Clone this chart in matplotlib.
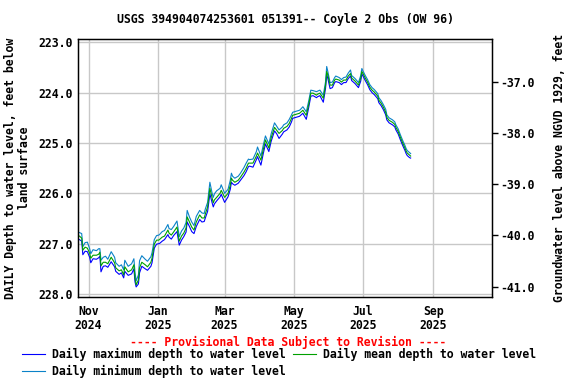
import matplotlib
matplotlib.use("Agg")
import matplotlib.pyplot as plt
import matplotlib.dates as mdates
import numpy as np
import pandas as pd

title = "USGS 394904074253601 051391-- Coyle 2 Obs (OW 96)"
start_date = "2024-10-24"
day_offsets = [0, 2, 3, 5, 7, 9, 10, 12, 15, 17, 18, 19, 21, 23, 25, 28, 31, 32, 35, 37,
               39, 40, 43, 46, 48, 49, 50, 52, 53, 55, 58, 60, 63, 64, 66, 68, 70, 71, 73, 75,
               78, 79, 81, 83, 86, 88, 90, 92, 94, 95, 97, 99, 101, 103, 106, 108, 110, 111, 113, 115,
               117, 118, 119, 121, 124, 125, 128, 131, 133, 134, 135, 137, 140, 142, 145, 147, 149, 150, 153, 156,
               157, 160, 162, 164, 167, 169, 172, 174, 176, 179, 180, 183, 185, 187, 188, 191, 194, 195, 197, 200,
               202, 204, 206, 209, 210, 212, 215, 217, 218, 219, 221, 223, 225, 226, 229, 231, 233, 235, 237, 239,
               240, 243, 246, 248, 249, 250, 252, 254, 256, 258, 260, 263, 264, 266, 268, 270, 271, 273, 276, 278,
               279, 281, 283, 285, 287, 288, 289, 291, 292]

mean_depth = [226.85, 226.89, 227.13, 227.07, 227.09, 227.19, 227.29, 227.23, 227.23, 227.21,
              227.17, 227.44, 227.37, 227.37, 227.40, 227.27, 227.38, 227.48, 227.54, 227.52,
              227.62, 227.46, 227.56, 227.52, 227.42, 227.68, 227.82, 227.72, 227.48, 227.37,
              227.42, 227.46, 227.37, 227.29, 227.01, 226.93, 226.93, 226.91, 226.87, 226.85,
              226.73, 226.79, 226.83, 226.77, 226.67, 226.95, 226.85, 226.79, 226.69, 226.47,
              226.57, 226.67, 226.73, 226.57, 226.43, 226.49, 226.49, 226.41, 226.27, 225.90,
              226.10, 226.19, 226.13, 226.08, 226.00, 225.94, 226.08, 226.00, 225.84, 225.70,
              225.74, 225.78, 225.74, 225.68, 225.58, 225.50, 225.40, 225.40, 225.40, 225.26,
              225.20, 225.34, 225.14, 224.94, 225.10, 224.90, 224.69, 224.75, 224.81, 224.75,
              224.71, 224.67, 224.61, 224.51, 224.45, 224.43, 224.41, 224.39, 224.35, 224.45,
              224.25, 224.01, 224.01, 224.05, 224.03, 224.01, 224.11, 223.85, 223.58, 223.65,
              223.85, 223.85, 223.75, 223.73, 223.75, 223.79, 223.75, 223.75, 223.67, 223.62,
              223.71, 223.77, 223.85, 223.71, 223.58, 223.62, 223.71, 223.79, 223.89, 223.95,
              223.99, 224.07, 224.15, 224.21, 224.29, 224.39, 224.49, 224.55, 224.59, 224.63,
              224.69, 224.77, 224.89, 225.00, 225.10, 225.16, 225.20, 225.24, 225.26]

min_depth = [226.78, 226.80, 227.06, 226.98, 226.97, 227.10, 227.20, 227.12, 227.14, 227.10,
             227.10, 227.33, 227.27, 227.25, 227.31, 227.16, 227.27, 227.38, 227.45, 227.42,
             227.52, 227.33, 227.45, 227.40, 227.30, 227.57, 227.74, 227.62, 227.34, 227.24,
             227.31, 227.35, 227.26, 227.18, 226.92, 226.84, 226.83, 226.81, 226.76, 226.74,
             226.62, 226.70, 226.72, 226.66, 226.55, 226.86, 226.75, 226.69, 226.58, 226.34,
             226.47, 226.57, 226.64, 226.46, 226.34, 226.39, 226.40, 226.31, 226.18, 225.78,
             226.00, 226.08, 226.01, 225.95, 225.90, 225.83, 226.00, 225.92, 225.74, 225.60,
             225.66, 225.70, 225.66, 225.60, 225.49, 225.40, 225.32, 225.33, 225.32, 225.17,
             225.08, 225.26, 225.05, 224.86, 225.02, 224.82, 224.60, 224.67, 224.74, 224.68,
             224.64, 224.60, 224.53, 224.44, 224.39, 224.37, 224.35, 224.33, 224.28, 224.38,
             224.18, 223.95, 223.96, 223.98, 223.97, 223.95, 224.05, 223.78, 223.48, 223.58,
             223.80, 223.79, 223.70, 223.67, 223.70, 223.74, 223.70, 223.69, 223.61, 223.55,
             223.66, 223.72, 223.80, 223.66, 223.52, 223.57, 223.66, 223.74, 223.84, 223.90,
             223.94, 224.02, 224.10, 224.16, 224.24, 224.33, 224.44, 224.50, 224.54, 224.58,
             224.64, 224.72, 224.84, 224.95, 225.05, 225.11, 225.15, 225.19, 225.21]

max_depth = [226.92, 226.95, 227.22, 227.15, 227.16, 227.27, 227.38, 227.30, 227.31, 227.28,
             227.25, 227.56, 227.45, 227.44, 227.47, 227.36, 227.46, 227.55, 227.61, 227.58,
             227.68, 227.55, 227.63, 227.60, 227.50, 227.76, 227.86, 227.80, 227.58, 227.45,
             227.50, 227.53, 227.45, 227.38, 227.09, 227.01, 227.00, 226.99, 226.95, 226.92,
             226.82, 226.87, 226.91, 226.84, 226.76, 227.03, 226.93, 226.86, 226.77, 226.57,
             226.66, 226.76, 226.80, 226.66, 226.52, 226.57, 226.56, 226.49, 226.36, 226.01,
             226.19, 226.27, 226.21, 226.15, 226.07, 226.02, 226.18, 226.07, 225.92, 225.78,
             225.81, 225.84, 225.80, 225.74, 225.65, 225.57, 225.47, 225.46, 225.48, 225.33,
             225.27, 225.44, 225.22, 225.02, 225.17, 224.97, 224.76, 224.82, 224.91, 224.82,
             224.78, 224.74, 224.68, 224.58, 224.51, 224.49, 224.47, 224.45, 224.41, 224.53,
             224.31, 224.07, 224.06, 224.10, 224.08, 224.06, 224.19, 223.91, 223.64, 223.72,
             223.92, 223.90, 223.80, 223.78, 223.80, 223.84, 223.80, 223.80, 223.72, 223.67,
             223.76, 223.82, 223.90, 223.77, 223.63, 223.67, 223.76, 223.84, 223.94, 224.00,
             224.04, 224.12, 224.20, 224.26, 224.34, 224.44, 224.54, 224.60, 224.64, 224.68,
             224.74, 224.82, 224.94, 225.05, 225.15, 225.21, 225.25, 225.29, 225.30]

left_ticks = [223.0, 224.0, 225.0, 226.0, 227.0, 228.0]
right_ticks = [-37.0, -38.0, -39.0, -40.0, -41.0]
x_tick_dates = ["2024-11-01", "2025-01-01", "2025-03-01", "2025-05-01", "2025-07-01", "2025-09-01"]
x_tick_labels = ["Nov\n2024", "Jan\n2025", "Mar\n2025", "May\n2025", "Jul\n2025", "Sep\n2025"]
x_range = ["2024-10-23", "2025-10-23"]

FONT = "DejaVu Sans Mono"
FS = 8.3
plt.rcParams["font.family"] = [FONT, "DejaVu Sans"]
plt.rcParams["font.weight"] = "bold"

dates = pd.Timestamp(start_date) + pd.to_timedelta(day_offsets, unit="D")

fig = plt.figure(figsize=(5.76, 3.84), dpi=100)
ax = fig.add_axes([78.3 / 576, 1 - 297 / 384, (492.3 - 78.3) / 576, (297 - 39.3) / 384])

c_max = "#0000ff"
c_mean = "#00a000"
c_min = "#0a82c8"
l_max, = ax.plot(dates, max_depth, color=c_max, lw=0.8, label="Daily maximum depth to water level")
l_min, = ax.plot(dates, min_depth, color=c_min, lw=0.8, label="Daily minimum depth to water level")
l_mean, = ax.plot(dates, mean_depth, color=c_mean, lw=0.8, label="Daily mean depth to water level")

ax.set_xlim(pd.Timestamp(x_range[0]), pd.Timestamp(x_range[1]))
ax.set_ylim(228.06, 222.94)
ax.set_yticks(left_ticks)
ax.set_yticklabels([f"{v:.1f}" for v in left_ticks], fontsize=FS, fontweight="bold")
ax.set_xticks([pd.Timestamp(d) for d in x_tick_dates])
ax.set_xticklabels(x_tick_labels, fontsize=FS, fontweight="bold", linespacing=1.05)
ax.tick_params(axis="both", length=0, pad=4)
ax.tick_params(axis="x", pad=6)
ax.grid(True, color="#c8c8c8", lw=1.0)
ax.set_axisbelow(True)
for s in ax.spines.values():
    s.set_linewidth(1.0)
    s.set_color("black")

ax.set_ylabel("DAILY Depth to water level, feet below\nland surface", fontsize=FS,
              fontweight="bold", linespacing=1.1, labelpad=5)

ax2 = ax.twinx()
ax2.set_ylim(-41.201, -36.173)
ax2.set_yticks(right_ticks)
ax2.set_yticklabels([f"{v:.1f}" for v in right_ticks], fontsize=FS, fontweight="bold")
ax2.tick_params(axis="y", length=4, width=1, direction="out", pad=2)
ax2.set_ylabel("Groundwater level above NGVD 1929, feet", fontsize=FS, fontweight="bold", labelpad=13)

fig.text(285 / 576, 1 - 19 / 384, title, ha="center", va="center", fontsize=FS, fontweight="bold")
fig.text(288 / 576, 1 - 342 / 384, "---- Provisional Data Subject to Revision ----",
         ha="center", va="center", fontsize=FS, fontweight="bold", color="red")

fig.legend([l_max, l_min, l_mean],
           [l_max.get_label(), l_min.get_label(), l_mean.get_label()],
           ncol=2, loc="upper left", bbox_to_anchor=(22 / 576, 1 - 348 / 384),
           frameon=False, fontsize=FS, handlelength=2.0, handletextpad=0.6,
           columnspacing=0.6, borderaxespad=0, borderpad=0, labelspacing=0.35,
           prop={"family": FONT, "weight": "bold", "size": FS})

fig.savefig("out.png", dpi=100)
